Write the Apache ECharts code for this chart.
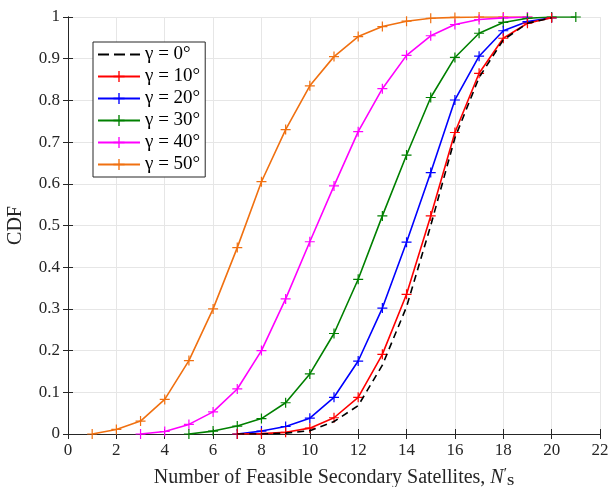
<!DOCTYPE html>
<html><head><meta charset="utf-8">
<script src="https://cdn.jsdelivr.net/npm/echarts@6/dist/echarts.min.js"></script>
<style>html,body{margin:0;padding:0;background:#fff}#c{width:610px;height:487px}</style>
</head><body><div id="c"></div>
<script>
const xTicks = [0,2,4,6,8,10,12,14,16,18,20,22];
const yTicks = [0,0.1,0.2,0.3,0.4,0.5,0.6,0.7,0.8,0.9,1];
const names = ['γ = 0°','γ = 10°','γ = 20°','γ = 30°','γ = 40°','γ = 50°'];
const colors = ['#000000','#ff0000','#0000ff','#008000','#ff00ff','#f07010'];
const x0 = [7,8,9,10,11,12,13,14,15,16,17,18,19,20];
const y0 = [0,0,0.002,0.008,0.03,0.068,0.165,0.305,0.50,0.71,0.855,0.945,0.985,0.998];
const x10 = [7,8,9,10,11,12,13,14,15,16,17,18,19,20];
const y10 = [0,0.001,0.004,0.014,0.039,0.088,0.191,0.335,0.523,0.723,0.865,0.949,0.985,0.998];
const x20 = [7,8,9,10,11,12,13,14,15,16,17,18,19,20];
const y20 = [0,0.007,0.018,0.038,0.088,0.175,0.302,0.46,0.627,0.801,0.906,0.967,0.989,0.998];
const x30 = [5,6,7,8,9,10,11,12,13,14,15,16,17,18,19,20,21];
const y30 = [0,0.007,0.019,0.037,0.075,0.144,0.241,0.371,0.523,0.669,0.807,0.903,0.961,0.987,0.997,1,1];
const x40 = [3,4,5,6,7,8,9,10,11,12,13,14,15,16,17,18,19];
const y40 = [0,0.006,0.023,0.053,0.108,0.20,0.324,0.461,0.595,0.725,0.828,0.908,0.955,0.982,0.994,0.998,1];
const x50 = [1,2,3,4,5,6,7,8,9,10,11,12,13,14,15,16,17,18,19];
const y50 = [0,0.011,0.031,0.083,0.176,0.30,0.447,0.605,0.73,0.835,0.905,0.953,0.977,0.99,0.997,0.999,1,1,1];

const xs = [x0,x10,x20,x30,x40,x50];
const ys = [y0,y10,y20,y30,y40,y50];
const plus = 'path://M-0.12,-1 L0.12,-1 L0.12,-0.12 L1,-0.12 L1,0.12 L0.12,0.12 L0.12,1 L-0.12,1 L-0.12,0.12 L-1,0.12 L-1,-0.12 L-0.12,-0.12 Z';
const dashIcon = 'path://M0,0 L0.01,0 L0.01,0.01 Z M42,14 L41.99,14 L41.99,13.99 Z M0,6.1 L11,6.1 L11,7.9 L0,7.9 Z M16,6.1 L27,6.1 L27,7.9 L16,7.9 Z M32,6.1 L42,6.1 L42,7.9 L32,7.9 Z';
const font = 'Liberation Serif';
const chart = echarts.init(document.getElementById('c'), null, {renderer:'canvas'});
const series = names.map((n,i)=>({
  name:n, type:'line', xAxisIndex:0, yAxisIndex:0,
  data: xs[i].map((x,k)=>[x, ys[i][k]]),
  symbol: i===0 ? 'none' : plus, symbolSize: 10, showSymbol: i!==0,
  lineStyle:{color:colors[i], width:1.6, type: i===0 ? [7,5] : 'solid'},
  itemStyle:{color:colors[i]},
  z: 10-i, animation:false
}));
const axCommon = {
  type:'value', min:0,
  axisLine:{show:true, lineStyle:{color:'#262626', width:1}},
  axisTick:{show:true, inside:true, length:5, lineStyle:{color:'#262626'}},
};
chart.setOption({
  animation:false,
  grid:{left:68, right:10, top:17, bottom:53, containLabel:false, outerBoundsMode:'none'},
  legend:{
    left:93, top:42, orient:'vertical',
    padding:[3,5,3,4], itemGap:3, itemWidth:42, itemHeight:14,
    backgroundColor:'#fff', borderColor:'#262626', borderWidth:1,
    textStyle:{fontFamily:font, fontSize:19, color:'#000'},
    data:names.map((n,i)=> i===0 ? {name:n, icon:dashIcon, itemStyle:{color:'#000'}} : {name:n})
  },
  xAxis:[
    Object.assign({}, axCommon, {max:22, interval:2, position:'bottom',
      axisLabel:{color:'#262626', fontFamily:font, fontSize:17, margin:8},
      splitLine:{show:true, lineStyle:{color:'#e6e6e6', width:1}},
      name:'Number of Feasible Secondary Satellites, {n|N}{p|′}{s|S}', nameLocation:'middle', nameGap:33,
      nameTextStyle:{color:'#262626', fontFamily:font, fontSize:20,
        rich:{n:{fontFamily:font, fontSize:20, fontStyle:'italic', color:'#262626'},
              p:{fontFamily:font, fontSize:15, color:'#262626', verticalAlign:'top'},
              s:{fontFamily:font, fontSize:13, fontWeight:'bold', color:'#262626', verticalAlign:'bottom', padding:[8,0,0,0]}}}}),
    Object.assign({}, axCommon, {max:22, interval:2, position:'top', axisLabel:{show:false}, splitLine:{show:false}})
  ],
  yAxis:[
    Object.assign({}, axCommon, {max:1, interval:0.1, position:'left',
      axisLabel:{color:'#262626', fontFamily:font, fontSize:17, margin:8, formatter:v=>String(Math.round(v*10)/10)},
      splitLine:{show:true, lineStyle:{color:'#e6e6e6', width:1}},
      name:'CDF', nameLocation:'middle', nameGap:42, nameRotate:90,
      nameTextStyle:{color:'#262626', fontFamily:font, fontSize:20}}),
    Object.assign({}, axCommon, {max:1, interval:0.1, position:'right', axisLabel:{show:false}, splitLine:{show:false}})
  ],
  series: series
});
</script></body></html>
